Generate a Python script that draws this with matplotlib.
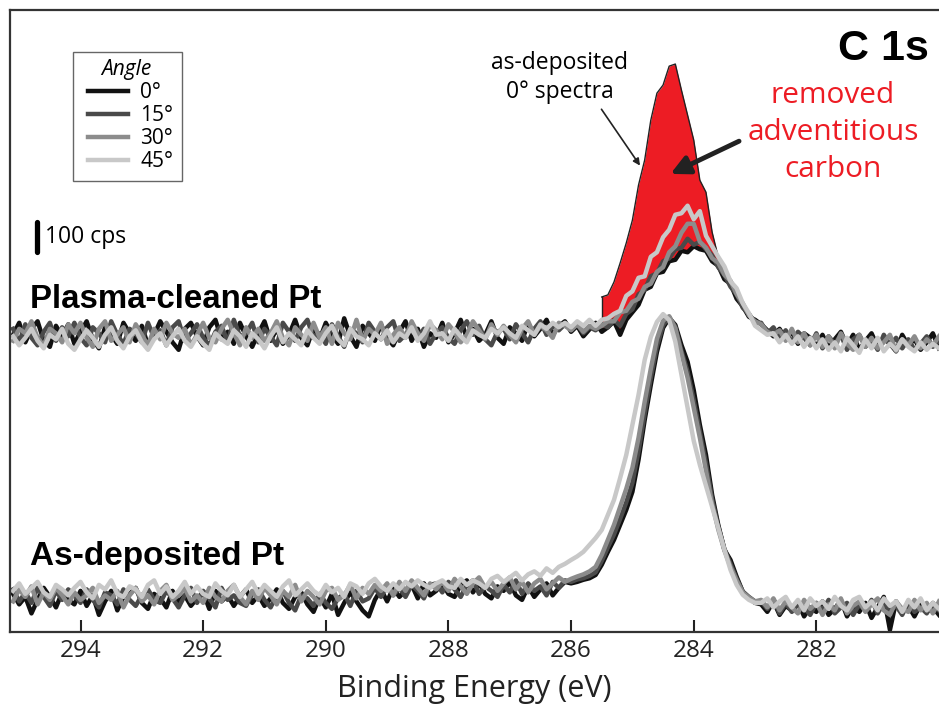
import numpy as np
import matplotlib
matplotlib.use('Agg')
import matplotlib.pyplot as plt
from matplotlib.patches import Rectangle

plt.rcParams['font.family'] = ['Open Sans', 'DejaVu Sans']

# binding energy grid, 295.1 -> 280.0 eV in 0.1 eV steps
energy = np.round(np.linspace(295.1, 280.0, 152), 2)

# ---- as-deposited Pt (cps): baseline 295.1-286.1, peak 286.0-283.0, tail 282.9-280.0
ad_0 = (
    [310, 275, 300, 245, 290, 330, 300, 265, 315, 290,
     275, 320, 270, 305, 240, 285, 320, 255, 300, 310,
     330, 280, 260, 310, 295, 265, 320, 285, 305, 270,
     295, 315, 260, 320, 285, 305, 270, 300, 325, 280,
     305, 270, 295, 325, 280, 260, 300, 315, 275, 250,
     300, 265, 310, 240, 280, 315, 285, 255, 235, 290,
     325, 285, 330, 300, 320, 340, 295, 345, 305, 320,
     345, 310, 300, 340, 355, 315, 345, 310, 295, 335,
     320, 350, 305, 290, 335, 300, 325, 345, 305, 330, 350]
    + [345, 350, 357, 362, 373, 407, 450, 490, 540, 590,
       650, 757, 889, 1006, 1116, 1196, 1229, 1206, 1139, 1083,
       989, 873, 773, 640, 540, 457, 423, 367, 317, 297, 280]
    + [275, 250, 285, 240, 270, 255, 280, 235, 265, 250,
       285, 240, 260, 290, 235, 270, 250, 280, 230, 265,
       300, 190, 285, 245, 270, 235, 275, 250, 265, 240]
)
ad_15 = (
    [325, 285, 315, 280, 330, 300, 270, 320, 290, 325,
     305, 280, 325, 290, 265, 315, 305, 275, 325, 290,
     270, 305, 325, 290, 280, 320, 295, 265, 305, 330,
     280, 320, 295, 265, 330, 290, 305, 280, 270, 310,
     325, 290, 265, 305, 320, 280, 255, 305, 295, 270,
     310, 280, 260, 295, 310, 270, 320, 285, 295, 330,
     300, 335, 305, 330, 300, 340, 320, 295, 340, 345,
     315, 350, 325, 300, 340, 355, 310, 335, 320, 300,
     340, 315, 355, 310, 345, 320, 335, 305, 350, 330, 355]
    + [350, 358, 362, 370, 382, 420, 465, 508, 560, 615,
       680, 785, 910, 1030, 1135, 1205, 1232, 1200, 1120, 1050,
       955, 850, 745, 625, 535, 460, 410, 360, 318, 300, 285]
    + [285, 260, 290, 245, 280, 250, 275, 265, 240, 280,
       255, 290, 245, 265, 280, 240, 275, 255, 290, 245,
       280, 255, 270, 240, 285, 250, 265, 245, 280, 255]
)
ad_30 = (
    [285, 325, 300, 335, 275, 315, 290, 330, 305, 275,
     315, 290, 305, 330, 280, 305, 290, 320, 265, 305,
     330, 285, 305, 275, 320, 340, 290, 305, 330, 285,
     305, 280, 330, 300, 285, 320, 340, 300, 275, 320,
     290, 330, 305, 275, 320, 300, 340, 285, 320, 300,
     275, 320, 330, 290, 305, 340, 295, 330, 310, 340,
     320, 345, 305, 350, 320, 355, 330, 305, 345, 325,
     350, 320, 360, 335, 310, 345, 365, 330, 350, 320,
     345, 365, 325, 350, 315, 345, 360, 325, 345, 365, 350]
    + [360, 368, 375, 385, 400, 440, 490, 540, 600, 660,
       730, 830, 950, 1060, 1160, 1220, 1235, 1195, 1110, 1030,
       930, 830, 720, 610, 525, 455, 400, 355, 315, 298, 285]
    + [290, 265, 295, 255, 285, 265, 245, 290, 260, 280,
       240, 275, 255, 295, 245, 270, 285, 250, 275, 295,
       255, 240, 285, 260, 250, 290, 255, 280, 245, 285]
)
ad_45 = (
    [320, 345, 310, 330, 350, 315, 300, 340, 325, 305,
     330, 350, 315, 295, 340, 325, 355, 310, 300, 335,
     325, 300, 340, 355, 310, 335, 300, 320, 350, 310,
     335, 310, 300, 345, 320, 305, 340, 300, 325, 350,
     310, 340, 320, 300, 335, 355, 305, 325, 345, 320,
     305, 340, 315, 330, 300, 345, 335, 310, 345, 360,
     335, 320, 345, 325, 350, 335, 355, 340, 330, 345,
     355, 335, 330, 360, 340, 355, 345, 330, 360, 370,
     350, 365, 380, 355, 375, 385, 370, 395, 380, 400, 410]
    + [423, 435, 450, 473, 496, 523, 573, 623, 696, 773,
       873, 973, 1089, 1166, 1216, 1242, 1222, 1150, 1040, 930,
       820, 740, 670, 600, 530, 457, 390, 340, 307, 290, 280]
    + [280, 295, 265, 285, 300, 265, 290, 255, 295, 270,
       285, 260, 300, 270, 255, 290, 300, 265, 285, 255,
       295, 270, 285, 250, 290, 265, 295, 255, 280, 260]
)

# ---- plasma-cleaned Pt (cps), same grid
pc_0 = (
    [300, 340, 275, 320, 345, 280, 260, 330, 295, 335,
     270, 310, 345, 285, 255, 325, 300, 270, 340, 305,
     280, 330, 265, 300, 345, 310, 275, 250, 320, 340,
     295, 265, 325, 350, 285, 310, 270, 340, 295, 260,
     305, 345, 280, 320, 270, 300, 350, 290, 265, 325,
     285, 340, 300, 270, 355, 295, 260, 330, 305, 280,
     335, 290, 265, 310, 345, 280, 320, 260, 305, 290,
     340, 275, 305, 350, 290, 320, 280, 300, 345, 290,
     270, 325, 305, 280, 340, 295, 320, 350, 300, 330, 345]
    + [310, 330, 295, 318, 340, 310, 325, 345, 300, 350,
       375, 400, 450, 460, 505, 510, 545, 550, 580, 575,
       595, 585, 580, 545, 530, 485, 470, 420, 395, 360, 350]
    + [335, 315, 295, 320, 285, 310, 270, 305, 290, 260,
       300, 255, 285, 310, 265, 300, 250, 280, 305, 260,
       290, 270, 245, 300, 265, 285, 250, 275, 305, 255]
)
pc_15 = (
    [320, 275, 335, 290, 265, 310, 340, 280, 325, 295,
     340, 290, 265, 325, 305, 275, 345, 300, 270, 320,
     305, 275, 340, 290, 315, 265, 325, 345, 280, 305,
     335, 290, 265, 310, 330, 275, 350, 295, 305, 340,
     275, 320, 295, 265, 340, 310, 280, 325, 350, 290,
     305, 270, 335, 295, 260, 320, 305, 275, 340, 310,
     285, 325, 345, 280, 300, 335, 290, 320, 270, 305,
     325, 290, 270, 315, 345, 300, 330, 285, 265, 310,
     320, 285, 335, 305, 275, 320, 345, 300, 330, 315, 335]
    + [320, 335, 305, 325, 315, 335, 325, 350, 330, 370,
       385, 435, 450, 495, 505, 545, 555, 585, 590, 620,
       600, 610, 585, 565, 525, 500, 460, 435, 390, 370, 340]
    + [340, 305, 325, 290, 315, 275, 310, 290, 265, 305,
       255, 295, 270, 300, 250, 285, 300, 260, 285, 250,
       300, 265, 290, 255, 285, 250, 270, 295, 260, 280]
)
pc_30 = (
    [280, 320, 305, 345, 290, 265, 320, 305, 275, 335,
     305, 340, 290, 260, 320, 345, 280, 300, 325, 275,
     335, 300, 265, 320, 285, 340, 305, 290, 320, 265,
     300, 340, 290, 275, 320, 350, 305, 265, 325, 290,
     320, 280, 305, 345, 290, 265, 325, 300, 280, 340,
     290, 325, 270, 340, 305, 285, 350, 280, 320, 300,
     340, 270, 300, 325, 290, 345, 305, 280, 335, 315,
     285, 335, 310, 275, 300, 345, 315, 285, 335, 300,
     330, 300, 275, 320, 345, 300, 330, 315, 290, 340, 330]
    + [315, 335, 310, 330, 320, 330, 345, 345, 375, 380,
       410, 420, 460, 470, 510, 525, 575, 595, 640, 670,
       670, 610, 590, 555, 540, 500, 480, 435, 405, 365, 345]
    + [335, 310, 300, 315, 280, 320, 275, 305, 265, 300,
       260, 295, 255, 305, 270, 250, 300, 260, 290, 255,
       275, 300, 245, 285, 265, 295, 255, 285, 265, 295]
)
pc_45 = (
    [295, 265, 290, 320, 280, 255, 300, 285, 320, 270,
     250, 285, 315, 290, 260, 300, 325, 280, 255, 295,
     315, 275, 250, 285, 305, 265, 295, 320, 280, 260,
     295, 270, 250, 305, 285, 270, 315, 295, 260, 305,
     285, 255, 295, 325, 275, 305, 285, 265, 315, 290,
     270, 305, 330, 285, 265, 320, 295, 285, 265, 305,
     285, 315, 275, 305, 290, 325, 280, 305, 345, 300,
     305, 280, 320, 295, 275, 315, 300, 290, 320, 305,
     325, 305, 290, 330, 315, 300, 335, 320, 340, 325, 340]
    + [325, 345, 330, 350, 330, 350, 355, 370, 380, 430,
       445, 490, 495, 560, 575, 625, 650, 700, 705, 730,
       685, 712, 630, 595, 560, 528, 478, 455, 405, 372, 330]
    + [315, 300, 305, 275, 300, 270, 295, 260, 290, 255,
       285, 250, 275, 245, 290, 265, 240, 285, 255, 290,
       245, 270, 250, 285, 260, 245, 275, 250, 270, 255]
)

# as-deposited 0 deg spectrum drawn over the plasma-cleaned set (285.5 -> 283.5 eV)
removed_counts = [1299, 1306, 1349, 1412, 1479, 1555, 1672, 1755, 1888, 1978, 2005,
                  2068, 2075, 1988, 1905, 1822, 1688, 1648, 1515, 1432, 1368]
REMOVED_FROM = 285.5

PLASMA_OFFSET = 873
angles = ['0°', '15°', '30°', '45°']
colors = ['#111111', '#4a4a4a', '#8c8c8c', '#c8c8c8']
SCALE_CPS = 100
SCALE_BASE = 1449

fig = plt.figure(figsize=(9.39, 7.09), dpi=100)
ax = fig.add_axes([10/939, 77/709, 929/939, 622/709])
ax.set_xlim(295.15, 280.0)
ax.set_ylim(183, 2255)

# red removed-carbon area, under the plasma curves
i0 = int(np.argmin(np.abs(energy - REMOVED_FROM)))
e_red = energy[i0:i0 + len(removed_counts)]
pc0_disp = np.array(pc_0[i0:i0 + len(removed_counts)]) + PLASMA_OFFSET
ax.fill_between(e_red, pc0_disp, removed_counts, color='#ED1C24', lw=0, zorder=1)
ax.plot(e_red, removed_counts, color='#222222', lw=1.0, zorder=1.5)
ax.plot([e_red[0], e_red[0]], [pc0_disp[0], removed_counts[0]], color='#222222', lw=1.0, zorder=1.5)

handles = []
for ad, pc, c, lab in zip([ad_0, ad_15, ad_30, ad_45], [pc_0, pc_15, pc_30, pc_45], colors, angles):
    h, = ax.plot(energy, ad, color=c, lw=3.2, label=lab, zorder=2, solid_joinstyle='round')
    ax.plot(energy, np.array(pc) + PLASMA_OFFSET, color=c, lw=3.2, zorder=2, solid_joinstyle='round')
    handles.append(h)

ax.set_yticks([])
ax.set_xticks([294, 292, 290, 288, 286, 284, 282])
ax.tick_params(axis='x', direction='in', length=9, width=1.5, labelsize=17.5, pad=5, colors='#222222')
ax.set_xlabel('Binding Energy (eV)', fontsize=22, labelpad=8, color='#222222')
ax.spines['right'].set_visible(False)
for s in ['left', 'bottom', 'top']:
    ax.spines[s].set_linewidth(1.6)
    ax.spines[s].set_color('#333333')

# legend: box + title drawn by hand, entries from the plotted lines
ax.add_patch(Rectangle((0.0678, 0.7251), 0.1173, 0.2074, transform=ax.transAxes,
                       fill=False, edgecolor='#666666', lw=1.0, zorder=3))
ax.text(0.1249, 0.9051, 'Angle', transform=ax.transAxes, fontsize=15, style='italic',
        ha='center', va='center')
leg = ax.legend(handles=handles, loc='upper left', bbox_to_anchor=(0.084, 0.884),
                fontsize=15, frameon=False, handlelength=1.92, handletextpad=0.58,
                labelspacing=0.1, borderpad=0, borderaxespad=0)

# 100 cps scale bar
ax.plot([0.029, 0.029], [SCALE_BASE, SCALE_BASE + SCALE_CPS], color='black', lw=3.8,
        solid_capstyle='round', transform=ax.get_yaxis_transform())
ax.text(0.0377, SCALE_BASE + SCALE_CPS / 2, '100 cps', fontsize=16.5, va='center',
        transform=ax.get_yaxis_transform())

# labels
bold = dict(family=['Liberation Sans', 'DejaVu Sans'], weight='bold', color='black')
fig.text(30/939, 1 - 308/709, 'Plasma-cleaned Pt', fontsize=23.8, va='baseline', **bold)
fig.text(30/939, 1 - 565/709, 'As-deposited Pt', fontsize=24, va='baseline', **bold)
fig.text(838/939, 1 - 60/709, 'C 1s', fontsize=31, va='baseline', **bold)

for txt, yb in zip(['removed', 'adventitious', 'carbon'], [103, 140, 177]):
    fig.text(833/939, 1 - yb/709, txt, fontsize=21.5, color='#ED1C24', ha='center', va='baseline')
fig.text(560/939, 1 - 69/709, 'as-deposited', fontsize=16.5, ha='center', va='baseline')
fig.text(560/939, 1 - 98/709, '0° spectra', fontsize=16.5, ha='center', va='baseline')

ax.annotate('', xy=(284.85, 1729), xytext=(285.53, 1932),
            arrowprops=dict(arrowstyle='-|>', color='#222222', lw=1.2, mutation_scale=10))
ax.annotate('', xy=(284.42, 1705), xytext=(283.22, 1822),
            arrowprops=dict(arrowstyle='-|>', color='#222222', lw=3.5, mutation_scale=28))

fig.savefig('out.png', dpi=100)
